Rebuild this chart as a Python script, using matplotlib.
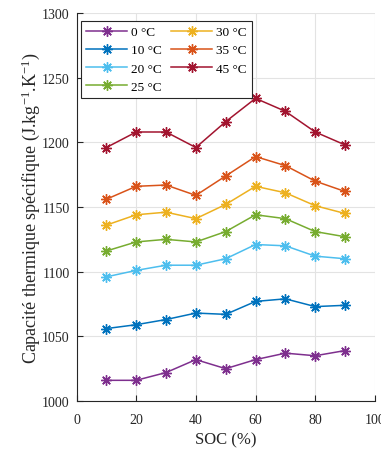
import matplotlib
matplotlib.use("Agg")
import matplotlib.pyplot as plt

plt.rcParams["font.family"] = ["Liberation Serif", "DejaVu Serif"]
plt.rcParams["mathtext.fontset"] = "custom"
plt.rcParams["mathtext.rm"] = "Liberation Serif"
plt.rcParams["mathtext.it"] = "Liberation Serif:italic"

# ── data ───────────────────────────────────────────────────────────────────────
soc = [10, 20, 30, 40, 50, 60, 70, 80, 90]
labels = ["0 °C", "10 °C", "20 °C", "25 °C", "30 °C", "35 °C", "45 °C"]

cp_0  = [1016, 1016, 1022, 1032, 1025, 1032, 1037, 1035, 1039]
cp_10 = [1056, 1059, 1063, 1068, 1067, 1077, 1079, 1073, 1074]
cp_20 = [1096, 1101, 1105, 1105, 1110, 1121, 1120, 1112, 1110]
cp_25 = [1116, 1123, 1125, 1123, 1131, 1144, 1141, 1131, 1127]
cp_30 = [1136, 1144, 1146, 1141, 1152, 1166, 1161, 1151, 1145]
cp_35 = [1156, 1166, 1167, 1159, 1174, 1189, 1182, 1170, 1162]
cp_45 = [1196, 1208, 1208, 1196, 1216, 1234, 1224, 1208, 1198]

series = [cp_0, cp_10, cp_20, cp_25, cp_30, cp_35, cp_45]
colors = ["#7E2F8E", "#0072BD", "#4DBEEE", "#77AC30", "#EDB120", "#D95319", "#A2142F"]

# ── draw ───────────────────────────────────────────────────────────────────────
fig = plt.figure(figsize=(3.81, 4.52), dpi=100)
ax = fig.add_axes([0.2008, 0.1106, 0.7832, 0.8584])

for vals, col, lab in zip(series, colors, labels):
    ax.plot(soc, vals, color=col, linewidth=1.1, marker=(8, 2, 0),
            markersize=7.5, markeredgewidth=1.0, label=lab)

ax.set_xlim(0, 100)
ax.set_ylim(1000, 1300)
ax.set_xticks(range(0, 101, 20))
ax.set_yticks(range(1000, 1301, 50))
ax.grid(True, color="#e3e3e3", linewidth=0.8)
ax.set_axisbelow(True)

for side in ("top", "right"):
    ax.spines[side].set_visible(False)
for side in ("left", "bottom"):
    ax.spines[side].set_color("#262626")
    ax.spines[side].set_linewidth(0.8)
ax.tick_params(direction="in", length=4, width=0.8, colors="#262626",
               labelsize=10, pad=5)
ax.tick_params(axis="x", pad=8.5)

ax.set_xlabel("SOC (%)", fontsize=12, color="#262626", labelpad=4)
ax.set_ylabel("Capacité thermique spécifique (J.kg$^{-1}$.K$^{-1}$)",
              fontsize=13, color="#262626", labelpad=0)

leg = ax.legend(ncol=2, loc="upper left", bbox_to_anchor=(0.015, 0.98),
                borderaxespad=0, fontsize=9.5, frameon=True, fancybox=False,
                edgecolor="#262626", framealpha=1, handlelength=3.1,
                columnspacing=0.7, labelspacing=0.45, handletextpad=0.3,
                borderpad=0.4)
leg.get_frame().set_linewidth(0.8)

fig.savefig("out.png", dpi=100)
